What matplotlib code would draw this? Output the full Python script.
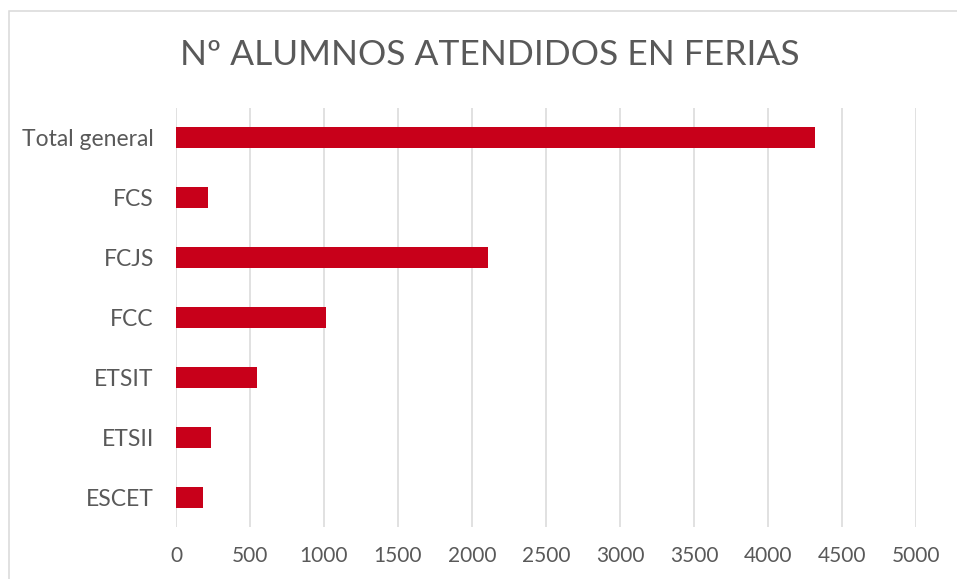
import matplotlib
matplotlib.use("Agg")
import matplotlib.pyplot as plt
from matplotlib.patches import Rectangle

# data (bottom to top)
categories = ["ESCET", "ETSII", "ETSIT", "FCC", "FCJS", "FCS", "Total general"]
alumnos = [185, 239, 547, 1016, 2106, 216, 4315]
xticks = [0, 500, 1000, 1500, 2000, 2500, 3000, 3500, 4000, 4500, 5000]

W, H = 957, 579
plt.rcParams['font.family'] = ['Lato', 'DejaVu Sans']
text_col = '#595959'
grid_col = '#d9d9d9'
bar_col = '#c8001a'

fig = plt.figure(figsize=(W / 100, H / 100), dpi=100)
ax = fig.add_axes([176 / W, 1 - 527 / H, (916 - 176) / W, (527 - 108) / H])

ax.barh(range(len(categories)), alumnos, height=0.35, color=bar_col, zorder=3)

ax.set_xlim(0, 5000)
ax.set_ylim(-0.5, len(categories) - 0.5)
ax.set_xticks(xticks)
ax.set_xticklabels([str(t) for t in xticks])
ax.set_yticks(range(len(categories)))
ax.set_yticklabels(categories)
ax.tick_params(axis='both', length=0, labelcolor=text_col)
ax.tick_params(axis='x', labelsize=15, pad=14)
ax.tick_params(axis='y', labelsize=16.5, pad=16)
ax.xaxis.grid(True, color=grid_col, linewidth=1.1, zorder=0)
for s in ax.spines.values():
    s.set_visible(False)

fig.text(490 / W, 1 - 55 / H, "Nº ALUMNOS ATENDIDOS EN FERIAS",
         ha='center', va='center', fontsize=25.5, color=text_col)

# chart frame (only top and left edges fall inside the image)
fig.patches.append(Rectangle((8.5 / W, -0.1), 1.2, 1.1 - 11 / H,
                             transform=fig.transFigure, fill=False,
                             edgecolor=grid_col, linewidth=1.1))

fig.savefig("out.png", dpi=100)
